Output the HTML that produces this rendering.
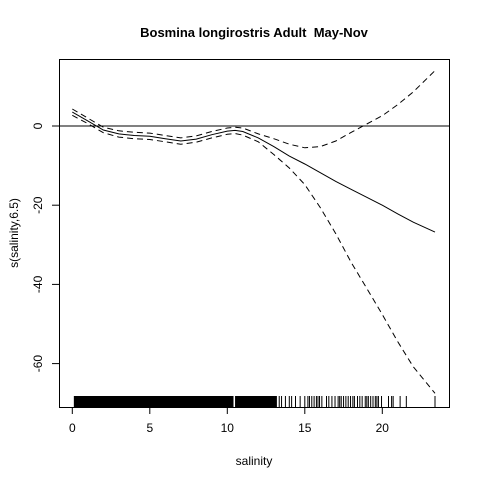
<!DOCTYPE html>
<html><head><meta charset="utf-8"><style>
body{margin:0;background:#fff}
svg{display:block;font-family:"Liberation Sans",Arial,sans-serif}
</style></head><body>
<svg id="chart" width="480" height="480" viewBox="0 0 480 480">
<rect x="0" y="0" width="480" height="480" fill="#fff"/>
<text x="254" y="37" text-anchor="middle" font-weight="bold" font-size="13">Bosmina longirostris Adult &#160;May-Nov</text>
<text x="254" y="465" text-anchor="middle" font-size="12">salinity</text>
<text transform="translate(18,233) rotate(-90)" text-anchor="middle" font-size="12">s(salinity,6.5)</text>
<g id="xaxis"></g>
<g id="yaxis"></g>
<g id="marks"></g>
<rect x="59.5" y="59.5" width="390" height="348" fill="none" stroke="#000"/>
</svg>
<script>
const xTicks=[0,5,10,15,20];
const yTicks=[0,-20,-40,-60];
const xs=[0,1,2,3,4,5,6,7,8,9,10,10.5,11,12,13,14,15,16,17,18,19,20,21,22,23.4];
const fit=[3.5,1.3,-1,-2,-2.4,-2.6,-3.2,-3.8,-3.3,-2.2,-1.3,-1.1,-1.4,-3,-5.2,-7.6,-9.6,-11.8,-14,-16,-18,-20,-22.2,-24.3,-26.8];
const upper=[4.3,2,-0.3,-1.2,-1.6,-1.8,-2.4,-3,-2.5,-1.4,-0.5,-0.3,-0.5,-2,-3.2,-4.6,-5.5,-5.2,-3.8,-1.6,0.5,2.6,5.4,8.6,14];
const lower=[2.7,0.6,-1.7,-2.8,-3.2,-3.4,-4,-4.6,-4.1,-3,-2.1,-1.9,-2.3,-4,-7.2,-10.6,-14.8,-20.6,-27.2,-34.5,-41,-47.6,-54.5,-60.8,-67.5];
const rugDense=[[0.1,10.4],[10.5,13.2]];
const rugSparse=[13.35,13.5,13.75,14.0,14.15,14.4,14.7,15.0,15.2,15.3,15.45,15.6,15.75,15.85,15.95,16.1,16.4,16.55,16.75,16.95,17.15,17.25,17.35,17.5,17.65,17.8,17.95,18.1,18.2,18.4,18.55,18.7,18.9,19.0,19.1,19.25,19.4,19.55,19.65,19.75,19.95,20.4,20.6,20.7,21.15,21.55,23.4];
const X=v=>72.3+v*15.5;
const Y=v=>126-v*3.96;
const NS='http://www.w3.org/2000/svg';
function mk(tag,attrs,parent){const e=document.createElementNS(NS,tag);for(const k in attrs)e.setAttribute(k,attrs[k]);parent.appendChild(e);return e;}
const xa=document.getElementById('xaxis'),ya=document.getElementById('yaxis'),m=document.getElementById('marks');
mk('line',{x1:X(xTicks[0]),x2:X(xTicks[xTicks.length-1]),y1:407.5,y2:407.5,stroke:'#000'},xa);
xTicks.forEach(t=>{
 const l=mk('line',{x1:X(t),x2:X(t),y1:407,y2:414,stroke:'#000'},xa);
 
 
 const tx=mk('text',{x:X(t),y:432,'text-anchor':'middle','font-size':'12'},xa);tx.textContent=t;
 
 
});
mk('line',{x1:59.5,x2:59.5,y1:Y(yTicks[0]),y2:Y(yTicks[yTicks.length-1]),stroke:'#000'},ya);
yTicks.forEach(t=>{
 const l=mk('line',{x1:52,x2:59,y1:Y(t),y2:Y(t),stroke:'#000'},ya);
 
 
 const tx=mk('text',{transform:`translate(42,${Y(t)}) rotate(-90)`,'text-anchor':'middle','font-size':'12'},ya);tx.textContent=t;
 
 
});
const z=mk('line',{x1:59.5,x2:449.5,y1:Y(0),y2:Y(0),stroke:'#000'},m);


function path(arr,dash,name){
 let d='';xs.forEach((x,i)=>{d+=(i?'L':'M')+X(x).toFixed(1)+','+Y(arr[i]).toFixed(1);});
 const p=mk('path',{d:d,fill:'none',stroke:'#000','stroke-width':1},m);
 if(dash)p.setAttribute('stroke-dasharray','6,4');
 
 
}
path(fit,false,'smooth-fit-line');
path(upper,true,'upper-ci-line');
path(lower,true,'lower-ci-line');
rugDense.forEach(r=>{
 const e=mk('rect',{x:X(r[0]),y:396,width:X(r[1])-X(r[0]),height:11,fill:'#000'},m);
 
 
});
rugSparse.forEach(v=>{
 const e=mk('line',{x1:X(v),x2:X(v),y1:396,y2:407,stroke:'#000'},m);
 
 
});
</script>
</body></html>
